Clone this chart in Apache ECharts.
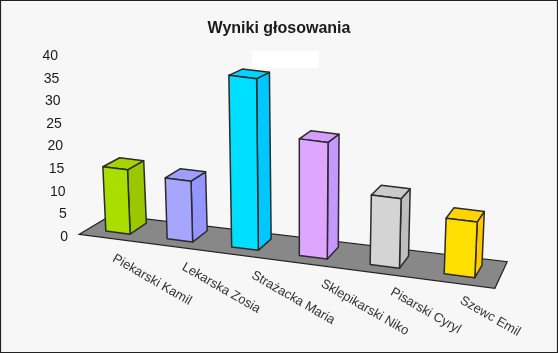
<!DOCTYPE html>
<html><head><meta charset="utf-8">
<style>html,body{margin:0;padding:0;background:#f7f7f7}#c{width:558px;height:353px}</style>
<script src="https://cdn.jsdelivr.net/npm/echarts@6/dist/echarts.min.js"></script>
</head><body><div id="c"></div>
<script>
const categories=['Piekarski Kamil','Lekarska Zosia','Strażacka Maria','Sklepikarski Niko','Pisarski Cyryl','Szewc Emil'];
const votes=[14,13,36,24,14,11];
const yTicks=[0,5,10,15,20,25,30,35,40];
const frontColors=['#aade00','#a6a6ff','#00dfff','#dfa6ff','#d4d4d4','#ffdf00'];
const sideColors=['#99c800','#9595ff','#00c8ff','#c896ff','#bfbfbf','#ffc800'];
const topColors=['#a5d400','#9e9eff','#00d4ff','#d49eff','#cacaca','#ffd400'];

const FONT='"Liberation Sans",Arial,sans-serif';
const G={left:100,top:55.2,width:417,height:180.8};
const band=G.width/categories.length;
const bottom=G.top+G.height;
const unit=G.height/40;
const line='#2b2b2b';

function project(px,py,side,depth){
  const t=(px-G.left)/band-.5;
  const cx=118+60.3*t+1.6*t*t;
  const w=24.3+.0187*(cx-118);
  const baseY=232.6+.1265*(cx-118);
  const h=(bottom-py)*(1+.0003*(cx-62));
  const x0=cx+side*w/2;
  let x=x0+(x0-300)*.00024*h;
  let y=baseY+side*w/2*.1265-h;
  if(depth){x+=16.5-.0263*(x0-118);y-=(4+y*.03);}
  return [x,y];
}
function face(points,fill){
  return {type:'polygon',shape:{points},style:{fill,stroke:line,lineWidth:1.5,lineJoin:'round'}};
}
const option={
  animation:false,
  backgroundColor:'#f7f7f7',
  title:{text:'Wyniki głosowania',left:'center',top:16,textStyle:{fontFamily:FONT,fontSize:16,fontWeight:'bold',color:'#1a1a1a'}},
  grid:G,
  xAxis:{type:'category',data:categories,show:false},
  yAxis:{type:'value',min:0,max:40,interval:5,show:false},
  graphic:[
    {type:'rect',z:0,shape:{x:0.5,y:0.5,width:557,height:352},style:{fill:'#f7f7f7',stroke:'#222',lineWidth:1.2}},
    {type:'rect',z:0,shape:{x:252,y:51,width:67,height:17},style:{fill:'#ffffff'}}
  ],
  series:[
    {type:'custom',coordinateSystem:'cartesian2d',z:2,silent:true,data:[[0]],encode:{x:0},
     renderItem(p,api){
       const a=api.coord([0,0]),b=api.coord([categories.length-1,0]);
       const l=project(a[0],a[1],0,false),r=project(b[0],b[1],0,false);
       const pts=[[l[0]-38.7,l[1]+1.7],[l[0]-6.3,l[1]-17.7],[r[0]+47.7,r[1]-14.1],[r[0]+35.4,r[1]+12.5]];
       return {type:'polygon',shape:{points:pts},style:{fill:'#888888',stroke:'#222',lineWidth:1.2}};
     }},
    {type:'custom',coordinateSystem:'cartesian2d',z:3,silent:true,
     data:votes.map((v,i)=>[i,v]),encode:{x:0,y:1},
     renderItem(p,api){
       const i=api.value(0),v=api.value(1);
       const top=api.coord([i,v]),base=api.coord([i,0]);
       const fl=project(base[0],base[1],-1,false),fr=project(base[0],base[1],1,false);
       const tl=project(top[0],top[1],-1,false),tr=project(top[0],top[1],1,false);
       const br=project(base[0],base[1],1,true);
       const trb=project(top[0],top[1],1,true),tlb=project(top[0],top[1],-1,true);
       return {type:'group',children:[
         face([fr,br,trb,tr],sideColors[i]),
         face([tl,tr,trb,tlb],topColors[i]),
         face([fl,fr,tr,tl],frontColors[i])
       ]};
     }},
    {type:'custom',coordinateSystem:'cartesian2d',z:4,silent:true,
     data:yTicks.map(v=>[0,v]),encode:{y:1},
     renderItem(p,api){
       const v=api.value(1),c=api.coord([0,v]);
       return {type:'text',style:{text:String(v),x:68-(bottom-c[1])/unit*.25,y:c[1]+1,
         align:'right',verticalAlign:'middle',font:'14px '+FONT,fill:'#1a1a1a'}};
     }},
    {type:'custom',coordinateSystem:'cartesian2d',z:4,silent:true,
     data:categories.map((n,i)=>[i,0]),encode:{x:0,y:1},
     renderItem(p,api){
       const i=api.value(0),c=api.coord([i,0]);
       return {type:'text',x:c[0]-18,y:c[1]+16+8.4*i,rotation:-30*Math.PI/180,
         style:{text:categories[i],x:0,y:0,align:'left',verticalAlign:'top',font:'13px '+FONT,fill:'#333'}};
     }}
  ]
};
echarts.init(document.getElementById('c'),null,{renderer:'canvas'}).setOption(option);
</script></body></html>
